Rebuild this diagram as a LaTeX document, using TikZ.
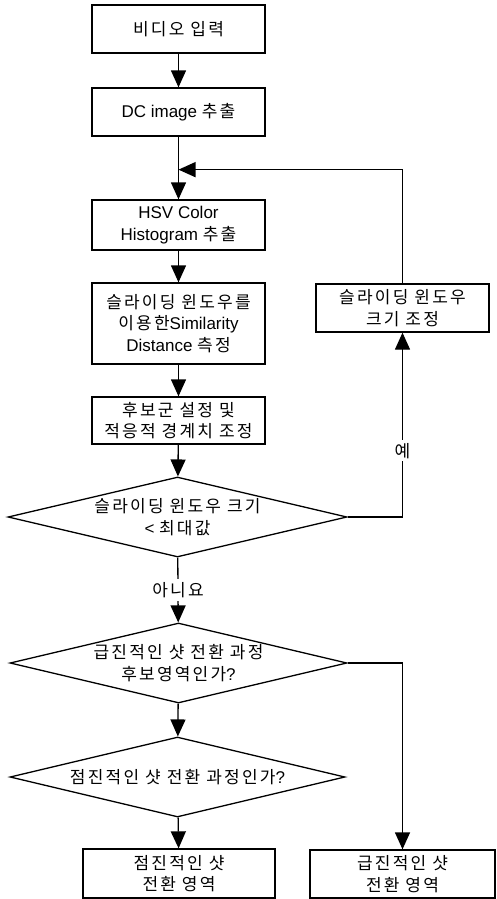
\documentclass[tikz,border=0pt]{standalone}
\usepackage{fontspec}
\setmainfont{Liberation Sans}
\newfontfamily\ko[LetterSpace=13,Scale=1.0]{Noto Sans CJK KR}
\usepackage{tikz}
\usetikzlibrary{arrows.meta,shapes.geometric,positioning}

\tikzset{
    procbox/.style={draw, line width=1.3pt, minimum width=173pt, minimum height=48pt,
        inner sep=0pt, align=center},
    decbox/.style={draw, diamond, line width=1.3pt, minimum width=339pt,
        minimum height=80pt, inner sep=0pt},
    dectext/.style={align=center, inner sep=0pt},
    flow/.style={line width=1.3pt, -{Triangle[width=15pt,length=17pt]}},
    lbl/.style={fill=white, inner sep=3pt}
}

\begin{document}
\begin{tikzpicture}[x=1pt, y=-1pt, font=\fontsize{17}{21.5}\selectfont]

\useasboundingbox (0,0) rectangle (496,899);

% Main column
\node[procbox] (input) at (178.5,29) {{\ko 비디오 입력}};
\node[procbox] (dcimg) at (178.5,112) {DC image {\ko 추출}};
\node[procbox, minimum height=50pt] (hsv) at (178.5,225)
    {HSV Color\\Histogram {\ko 추출}};
\node[procbox, minimum height=81pt] (simdist) at (178.5,323.5)
    {{\ko 슬라이딩 윈도우를}\\{\ko 이용한}Similarity\\Distance {\ko 측정}};
\node[procbox, minimum height=47pt] (thresh) at (178.5,420.5)
    {{\ko 후보군 설정 및}\\{\ko 적응적 경계치 조정}};

% Decisions
\node[decbox] (winmax) at (177.5,517) {};
\node[dectext] (winmaxtext) at (winmax) {{\ko 슬라이딩 윈도우 크기}\\<\ {\ko 최대값}};
\node[decbox, minimum width=337pt] (abrupt) at (178.5,663) {};
\node[dectext] (abrupttext) at (abrupt) {{\ko 급진적인 샷 전환 과정}\\{\ko 후보영역인가}?};
\node[decbox, minimum width=335pt] (gradual) at (177.5,777) {};
\node[dectext] (gradualtext) at (gradual) {{\ko 점진적인 샷 전환 과정인가}?};

% Results
\node[procbox, minimum width=192pt, minimum height=49pt] (gradarea) at (179,873.5)
    {{\ko 점진적인 샷}\\{\ko 전환 영역}};
\node[procbox, minimum width=185pt, minimum height=48pt] (abrarea) at (402.5,874)
    {{\ko 급진적인 샷}\\{\ko 전환 영역}};

% Window resize
\node[procbox] (resize) at (402.5,308) {{\ko 슬라이딩 윈도우}\\{\ko 크기 조정}};

% Connectors
\coordinate (merge) at ([yshift=-33pt]dcimg.south);
\draw[flow] (input) -- (dcimg);
\draw[flow] (dcimg) -- (hsv);
\draw[flow] (hsv) -- (simdist);
\draw[flow] (simdist) -- (thresh);
\draw[flow] (thresh) -- (winmax);
\draw[flow] (winmax) -- node[lbl] (no) {{\ko 아니요}} (abrupt);
\draw[flow] (winmax.east) -| node[lbl, pos=0.68] (yes) {{\ko 예}} (resize.south);
\draw[flow] (resize.north) |- (merge);
\draw[flow] (abrupt) -- (gradual);
\draw[flow] (abrupt.east) -| (abrarea.north);
\draw[flow] (gradual) -- (gradarea);

\end{tikzpicture}
\end{document}
